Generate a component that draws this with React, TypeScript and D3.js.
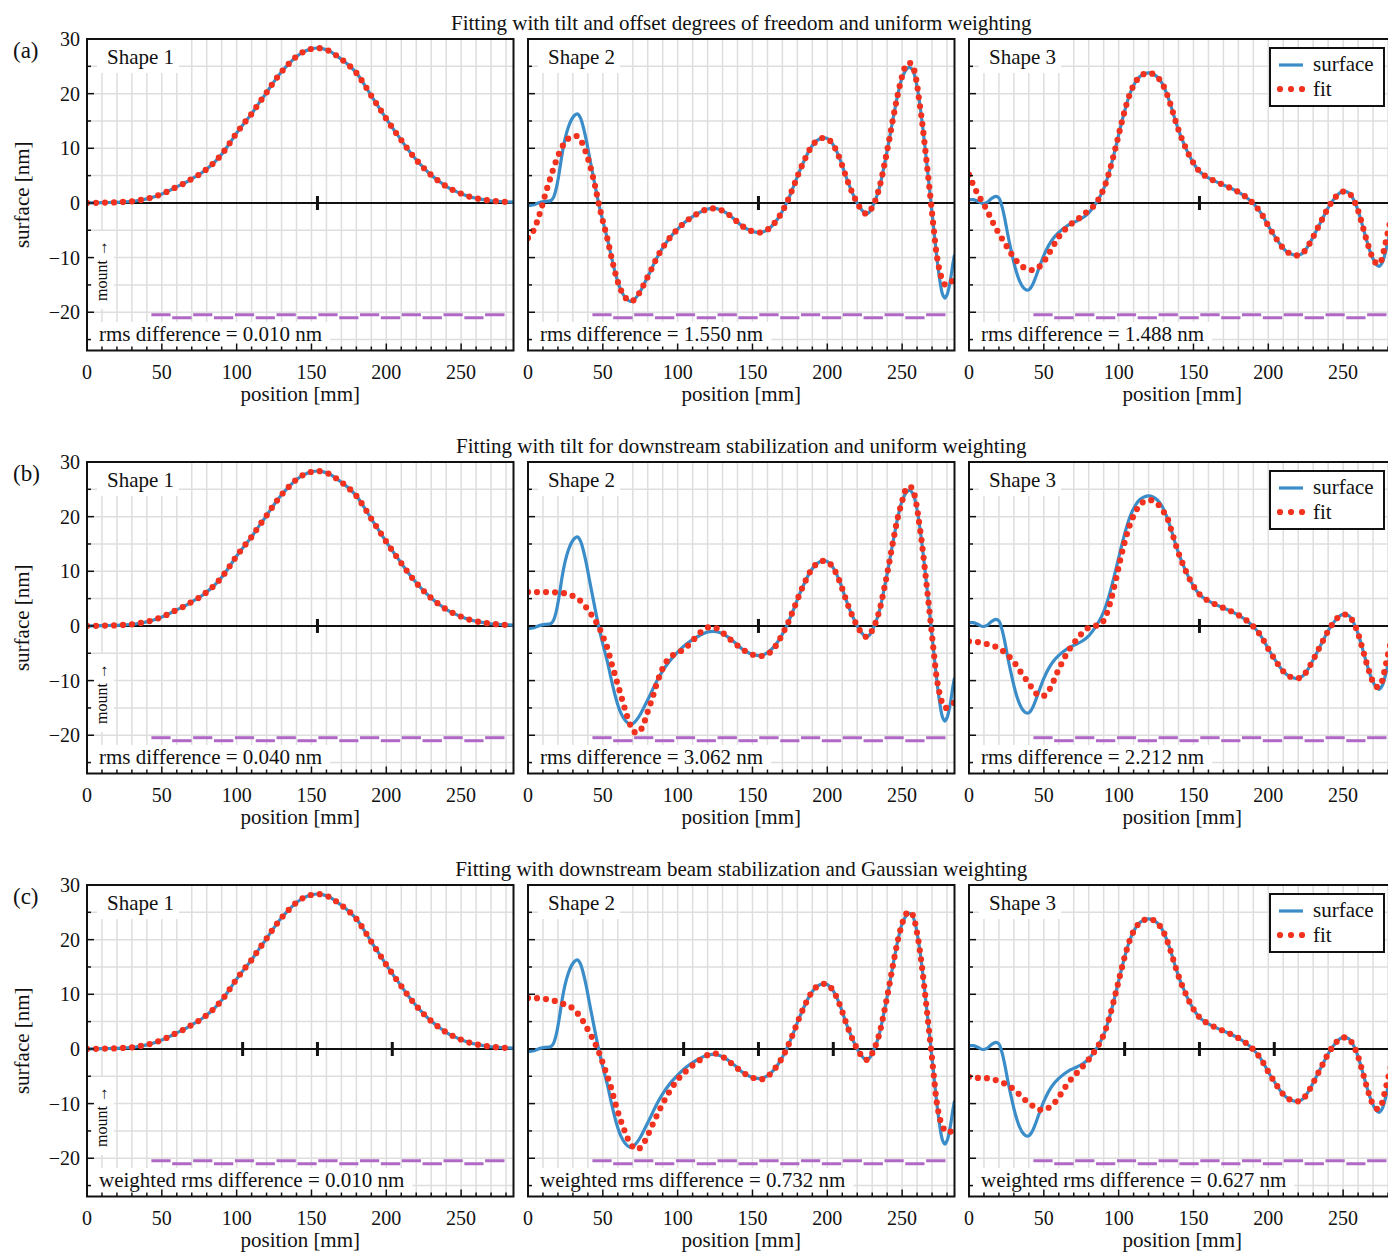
import React from "react";
import * as d3 from "d3";

type Pt = [number, number];

const W = 1388;
const H = 1252;

const rowTitles = [
  "Fitting with tilt and offset degrees of freedom and uniform weighting",
  "Fitting with tilt for downstream stabilization and uniform weighting",
  "Fitting with downstream beam stabilization and Gaussian weighting",
];
const rowLetters = ["(a)", "(b)", "(c)"];
const shapeNames = ["Shape 1", "Shape 2", "Shape 3"];
const rmsLabels = [
  ["rms difference = 0.010 nm", "rms difference = 1.550 nm", "rms difference = 1.488 nm"],
  ["rms difference = 0.040 nm", "rms difference = 3.062 nm", "rms difference = 2.212 nm"],
  ["weighted rms difference = 0.010 nm", "weighted rms difference = 0.732 nm", "weighted rms difference = 0.627 nm"],
];
const mountPositions = [[154], [154], [104, 154, 204]];
const xTicks = [0, 50, 100, 150, 200, 250];
const yTicks = [-20, -10, 0, 10, 20, 30];
const legendLabels = ["surface", "fit"];

// purple pad segments (edges in mm, level in nm)
const padEdges = [42.5, 56.4, 70.4, 84.3, 98.3, 112.2, 126.1, 140.1, 154.0, 168.0, 181.9, 195.8, 209.8, 223.7, 237.7, 251.6, 265.5, 279.5];
const padLevels = [-20.45, -21.0, -20.45, -21.0, -20.45, -21.0, -20.45, -21.0, -20.45, -21.0, -20.45, -21.0, -20.45, -21.0, -20.45, -21.0, -20.45];

const shape1Surface: Pt[] = [
  [0, 0], [5, 0.02], [10, 0.05], [15, 0.08], [20, 0.12], [25, 0.2], [30, 0.3], [35, 0.5], [40, 0.75], [45, 1.15],
  [50, 1.65], [55, 2.25], [60, 2.95], [65, 3.6], [70, 4.4], [75, 5.2], [80, 6.2], [85, 7.4], [90, 8.9], [95, 10.8],
  [100, 12.8], [105, 14.6], [110, 16.3], [115, 18.3], [120, 20.2], [125, 22.2], [130, 24.0], [135, 25.5], [140, 26.8],
  [145, 27.7], [150, 28.2], [154, 28.35], [158, 28.2], [162, 27.8], [166, 27.1], [170, 26.3], [175, 25.2], [180, 23.8],
  [185, 21.8], [190, 19.6], [195, 17.5], [200, 15.4], [205, 13.4], [210, 11.5], [215, 9.6], [220, 7.9], [225, 6.4],
  [230, 5.1], [235, 4.0], [240, 3.05], [245, 2.3], [250, 1.7], [255, 1.2], [260, 0.85], [265, 0.6], [270, 0.4],
  [275, 0.3], [280, 0.2], [285, 0.15],
];

const shape2Surface: Pt[] = [
  [0, -0.5], [4, -0.3], [8, 0.1], [12, 0.3], [15, 0.4], [17, 1.0], [19, 2.8], [21, 5.8], [23, 9.3], [25, 12], [27, 13.9],
  [29, 15.2], [31, 16.0], [33, 16.3], [35, 15.6], [37, 13.8], [39, 11.4], [41, 8.5], [43, 5.7], [45, 2.9], [47, 0.2],
  [50, -3.3], [53, -6.5], [56, -10.2], [59, -13.5], [62, -15.9], [65, -17.3], [68, -18.0], [70, -17.9], [72, -17.4],
  [75, -16.2], [78, -14.6], [82, -12.4], [86, -10.1], [90, -8.2], [95, -6.3], [100, -4.8], [105, -3.5], [110, -2.5],
  [115, -1.7], [120, -1.1], [124, -1.0], [128, -1.2], [133, -1.9], [138, -3.0], [143, -4.2], [148, -5.0], [153, -5.4],
  [157, -5.3], [161, -4.7], [165, -3.6], [169, -2.0], [173, 0.1], [177, 2.7], [181, 5.5], [185, 8.0], [189, 10.1],
  [193, 11.4], [197, 11.9], [200, 11.8], [203, 11.0], [206, 9.6], [209, 7.6], [212, 5.2], [215, 3.0], [218, 1.1],
  [221, -0.5], [224, -1.6], [226, -2.0], [228, -1.7], [230, -0.8], [232, 0.4], [235, 3.0], [238, 6.8], [241, 11.0],
  [244, 15.5], [247, 19.7], [250, 22.9], [253, 24.5], [255, 24.8], [257, 24.3], [259, 22.6], [261, 19.6], [263, 15.6],
  [265, 10.9], [267, 5.9], [269, 0.8], [271, -4.4], [273, -9.5], [275, -13.8], [277, -16.7], [278.5, -17.4],
  [280, -16.8], [282, -14.5], [284, -11.0], [285, -9.5],
];

const shape3Surface: Pt[] = [
  [0, 0.6], [3, 0.6], [6, 0.3], [9, -0.1], [12, 0.1], [15, 0.8], [18, 1.2], [20, 0.9], [22, -0.6], [24, -3.0],
  [26, -5.9], [28, -8.5], [30, -10.9], [32, -12.9], [34, -14.4], [36, -15.4], [38, -15.9], [40, -15.9], [42, -15.2],
  [44, -14.0], [46, -12.5], [48, -11.0], [50, -9.6], [53, -7.9], [56, -6.6], [60, -5.4], [64, -4.5], [68, -3.8],
  [72, -3.3], [76, -2.7], [80, -1.8], [84, -0.4], [87, 0.9], [90, 2.6], [93, 5.0], [96, 8.0], [99, 11.3], [102, 14.7],
  [105, 17.8], [108, 20.3], [111, 22.0], [114, 23.1], [117, 23.6], [120, 23.8], [123, 23.6], [126, 23.0], [129, 21.9],
  [132, 20.1], [135, 17.7], [138, 15.0], [141, 12.6], [144, 10.6], [147, 8.8], [150, 7.3], [153, 6.1], [156, 5.3],
  [160, 4.6], [165, 3.9], [170, 3.3], [175, 2.7], [180, 2.0], [185, 1.1], [190, -0.1], [195, -1.8], [200, -4.2],
  [205, -6.4], [210, -8.3], [214, -9.2], [218, -9.6], [221, -9.5], [224, -8.9], [227, -7.7], [230, -6.2], [233, -4.6],
  [236, -3.0], [239, -1.4], [242, 0.0], [245, 1.1], [248, 1.9], [251, 2.1], [254, 1.8], [257, 0.6], [260, -1.4],
  [263, -4.2], [266, -7.1], [269, -9.6], [272, -11.2], [274, -11.6], [276, -11.0], [278, -9.3], [280, -7.0],
  [282, -4.8], [285, -2.0],
];

// fit curves: stretches where the fit departs from the surface
const fitA2Left: Pt[] = [[0, -6.4], [3, -5.4], [6, -3.5], [9, -0.9], [12, 2.0], [15, 4.6], [18, 7.1], [21, 9.2], [24, 10.8], [27, 11.8], [30, 12.2], [33, 12.2], [36, 11.1], [39, 9.0], [41, 7.3], [43, 5.2]];
const fitA2Peak: Pt[] = [[250, 23.2], [252, 24.9], [254, 25.6], [256, 25.5], [258, 24.3], [260, 21.6]];
const fitA2End: Pt[] = [[273, -9.3], [275, -12.3], [277, -14.2], [279, -15.0], [281, -14.8], [283, -14.4], [285, -14.0]];

const fitB2Left: Pt[] = [
  [0, 6.2], [5, 6.2], [10, 6.2], [15, 6.2], [20, 6.1], [24, 6.0], [28, 5.7], [32, 5.2], [35, 4.6], [38, 3.7], [41, 2.6],
  [44, 1.4], [47, 0.0], [50, -1.9], [53, -4.0], [56, -7.0], [59, -9.8], [62, -12.6], [65, -15.4], [68, -17.9], [71, -19.4],
  [74, -19.5], [77, -18.1], [80, -15.7], [83, -13.3], [86, -10.6], [89, -8.4], [92, -6.7], [96, -5.5], [100, -4.9],
  [104, -4.3], [108, -3.3], [112, -2.1], [116, -1.0], [120, -0.3], [124, -0.2], [128, -0.8], [132, -1.7], [137, -2.9],
  [142, -4.0], [147, -4.9], [152, -5.4], [156, -5.5], [160, -5.2], [164, -4.2], [168, -2.6],
];
const fitB2Peak: Pt[] = [[250, 22.8], [252, 24.7], [254, 25.5], [256, 25.4], [258, 24.2], [260, 21.5]];
const fitB2End: Pt[] = [[273, -9.3], [275, -12.3], [277, -14.2], [279, -15.0], [281, -14.8], [283, -14.4], [285, -14.0]];

const fitC2Left: Pt[] = [
  [0, 9.3], [5, 9.3], [10, 9.2], [15, 9.0], [19, 8.7], [23, 8.3], [27, 7.9], [31, 7.2], [34, 6.2], [37, 5.0], [40, 3.5],
  [43, 2.0], [46, 0.3], [49, -1.8], [52, -4.2], [55, -6.6], [58, -9.6], [61, -12.3], [64, -14.6], [67, -16.6], [70, -17.9],
  [73, -18.4], [76, -17.8], [79, -16.4], [82, -14.6], [85, -12.8], [88, -11.1], [91, -9.5], [95, -7.6], [100, -5.6],
  [105, -4.2], [110, -3.0], [115, -2.0], [120, -1.1], [124, -0.8], [128, -1.1], [133, -2.0], [138, -3.1], [143, -4.2],
  [148, -5.0], [153, -5.5], [157, -5.5], [161, -4.8],
];
const fitC2Peak: Pt[] = [[250, 22.9], [252, 24.4], [254, 25.1], [256, 25.0], [258, 23.8], [260, 21.2]];
const fitC2End: Pt[] = [[273, -9.5], [275, -12.5], [277, -14.2], [279, -15.0], [281, -15.3], [283, -15.0], [285, -14.6]];

const fitA3Left: Pt[] = [
  [0, 5.2], [4, 2.6], [8, 0.6], [12, -1.3], [16, -3.6], [20, -5.6], [24, -7.4], [28, -9.2], [32, -10.7], [36, -11.7],
  [40, -12.2], [44, -12.2], [48, -11.4], [52, -9.9], [56, -8.0], [60, -6.2], [64, -4.9], [68, -3.9], [72, -3.1],
  [76, -2.3], [80, -1.3],
];
const fitA3End: Pt[] = [[270, -10.3], [273, -11.2], [275, -10.8], [277, -9.0], [279, -6.5], [281, -4.0], [283, -1.8], [285, 0.2]];

const fitB3Left: Pt[] = [
  [0, -2.8], [5, -2.9], [10, -3.2], [15, -3.5], [20, -4.1], [25, -5.1], [30, -6.6], [35, -8.6], [40, -10.5], [44, -12.1],
  [47, -12.8], [50, -12.8], [53, -12.0], [56, -10.4], [59, -8.5], [62, -6.8], [65, -5.2], [68, -3.9], [71, -2.8],
  [74, -1.8], [77, -0.9], [80, -0.3], [83, 0.0], [86, 0.1], [89, 0.6], [92, 2.2], [95, 4.9], [98, 8.3], [101, 12.0],
  [104, 15.3], [107, 18.1], [110, 20.2], [113, 21.7], [116, 22.6], [119, 23.0], [122, 23.0], [125, 22.6], [128, 21.7],
  [130, 20.9],
];
const fitB3End: Pt[] = [[270, -10.3], [273, -11.2], [275, -10.8], [277, -9.0], [279, -6.5], [281, -4.0], [283, -1.8], [285, 0.2]];

const fitC3Left: Pt[] = [
  [0, -5.1], [5, -5.3], [10, -5.3], [15, -5.5], [20, -5.9], [25, -6.5], [30, -7.4], [35, -8.7], [40, -9.9], [45, -10.8],
  [49, -11.2], [53, -10.8], [57, -9.9], [61, -8.4], [65, -6.7], [69, -5.3], [73, -4.1], [77, -2.9], [81, -1.6],
];
const fitC3End: Pt[] = [[270, -10.1], [273, -11.0], [275, -10.6], [277, -8.8], [279, -6.6], [281, -4.3], [283, -2.0], [285, 0.0]];

function withOverrides(base: Pt[], ...parts: Pt[][]): Pt[] {
  let pts = base.slice();
  for (const p of parts) {
    const lo = p[0][0];
    const hi = p[p.length - 1][0];
    pts = pts.filter(([x]) => x < lo || x > hi).concat(p);
  }
  return pts.sort((a, b) => a[0] - b[0]);
}

const surfaces = [shape1Surface, shape2Surface, shape3Surface];
const fits: Pt[][][] = [
  [shape1Surface, withOverrides(shape2Surface, fitA2Left, fitA2Peak, fitA2End), withOverrides(shape3Surface, fitA3Left, fitA3End)],
  [shape1Surface, withOverrides(shape2Surface, fitB2Left, fitB2Peak, fitB2End), withOverrides(shape3Surface, fitB3Left, fitB3End)],
  [shape1Surface, withOverrides(shape2Surface, fitC2Left, fitC2Peak, fitC2End), withOverrides(shape3Surface, fitC3Left, fitC3End)],
];

const colLeft = [87, 528, 969];
const rowTop = [39, 462, 885];
const PW = 426.5;
const PH = 311.5;

const FONT = "'Liberation Serif', 'Times New Roman', serif";
const FS = 21;
const BLUE = "#3a8dc8";
const RED = "#f2311f";
const PURPLE = "#b068c6";
const GRID = "#dedede";

let ctx: CanvasRenderingContext2D | null = null;
function textWidth(s: string, size: number) {
  if (!ctx) ctx = document.createElement("canvas").getContext("2d");
  if (!ctx) return s.length * size * 0.45;
  ctx.font = `${size}px 'Liberation Serif'`;
  return ctx.measureText(s).width;
}

const Panel = ({ row, col }: { row: number; col: number }) => {
  const left = colLeft[col];
  const top = rowTop[row];
  const x = d3.scaleLinear().domain([0, 285]).range([left, left + PW]);
  const y = d3.scaleLinear().domain([-27, 30]).range([top + PH, top]);
  const line = d3
    .line<Pt>()
    .x((d) => x(d[0]))
    .y((d) => y(d[1]))
    .curve(d3.curveCatmullRom.alpha(0.5));
  const clipId = `clip-${row}-${col}`;
  const rms = rmsLabels[row][col];
  const rmsW = textWidth(rms, FS);
  const gridX = d3.range(10, 290, 10);
  const gridY = d3.range(-25, 30, 5);
  const minorX = d3.range(10, 290, 10).filter((v) => v % 50 !== 0);
  const minorY = d3.range(-25, 30, 10);

  return (
    <g>
      <defs>
        <clipPath id={clipId}>
          <rect x={left} y={top} width={PW} height={PH} />
        </clipPath>
      </defs>
      <rect x={left} y={top} width={PW} height={PH} fill="#fff" />
      <g stroke={GRID} strokeWidth={1.5}>
        {gridX.map((v) => (
          <line key={"gx" + v} x1={x(v)} x2={x(v)} y1={top} y2={top + PH} />
        ))}
        {gridY.map((v) => (
          <line key={"gy" + v} x1={left} x2={left + PW} y1={y(v)} y2={y(v)} />
        ))}
      </g>
      {/* label backgrounds */}
      <rect x={left + 10} y={top + 1} width={82} height={33} fill="#fff" />
      <rect x={left + 4} y={top + 283} width={rmsW + 16} height={27} fill="#fff" />
      {col === 0 && <rect x={left + 5} y={top + 192} width={22} height={78} fill="#fff" />}
      <text x={left + 20} y={top + 25} fontFamily={FONT} fontSize={FS} fill="#111">
        {shapeNames[col]}
      </text>
      <text x={left + 12} y={top + 302} fontFamily={FONT} fontSize={FS} fill="#111">
        {rms}
      </text>
      {col === 0 && (
        <text
          transform={`translate(${left + 20},${top + 262}) rotate(-90)`}
          fontFamily={FONT}
          fontSize={16}
          fill="#111"
        >
          mount →
        </text>
      )}
      <g clipPath={`url(#${clipId})`}>
        <line x1={left} x2={left + PW} y1={y(0)} y2={y(0)} stroke="#111" strokeWidth={2} />
        {mountPositions[row].map((m) => (
          <line key={"m" + m} x1={x(m)} x2={x(m)} y1={y(0) - 7} y2={y(0) + 7} stroke="#111" strokeWidth={3} />
        ))}
        {padLevels.map((lv, i) => (
          <line
            key={"p" + i}
            x1={x(padEdges[i]) + 0.8}
            x2={x(padEdges[i + 1]) - 0.8}
            y1={y(lv)}
            y2={y(lv)}
            stroke={PURPLE}
            strokeWidth={3}
          />
        ))}
        <path d={line(surfaces[col]) || ""} fill="none" stroke={BLUE} strokeWidth={3.2} />
        <path
          d={line(fits[row][col]) || ""}
          fill="none"
          stroke={RED}
          strokeWidth={6.2}
          strokeLinecap="round"
          strokeDasharray="0 9"
        />
      </g>
      {col === 2 && (
        <g>
          <rect x={left + 301} y={top + 9} width={114} height={58} fill="#fff" stroke="#111" strokeWidth={2} />
          <line x1={left + 310} x2={left + 334} y1={top + 26} y2={top + 26} stroke={BLUE} strokeWidth={3.2} />
          <line
            x1={left + 311}
            x2={left + 334}
            y1={top + 50}
            y2={top + 50}
            stroke={RED}
            strokeWidth={6.2}
            strokeLinecap="round"
            strokeDasharray="0 11"
          />
          {legendLabels.map((l, i) => (
            <text key={l} x={left + 344} y={top + 32 + i * 25} fontFamily={FONT} fontSize={FS} fill="#111">
              {l}
            </text>
          ))}
        </g>
      )}
      {/* ticks */}
      <g stroke="#111" strokeWidth={1.5}>
        {yTicks.map((v) => (
          <line key={"yt" + v} x1={left} x2={left + 7} y1={y(v)} y2={y(v)} />
        ))}
        {minorY.map((v) => (
          <line key={"ym" + v} x1={left} x2={left + 4} y1={y(v)} y2={y(v)} />
        ))}
        {xTicks.map((v) => (
          <line key={"xt" + v} x1={x(v)} x2={x(v)} y1={top + PH} y2={top + PH - 7} />
        ))}
        {minorX.map((v) => (
          <line key={"xm" + v} x1={x(v)} x2={x(v)} y1={top + PH} y2={top + PH - 4} />
        ))}
      </g>
      <rect x={left} y={top} width={PW} height={PH} fill="none" stroke="#111" strokeWidth={2} />
      {xTicks.map((v) => (
        <text
          key={"xl" + v}
          x={x(v)}
          y={top + PH + 28}
          textAnchor="middle"
          fontFamily={FONT}
          fontSize={20}
          fill="#111"
        >
          {v}
        </text>
      ))}
      <text
        x={left + PW / 2}
        y={top + PH + 50}
        textAnchor="middle"
        fontFamily={FONT}
        fontSize={FS}
        fill="#111"
      >
        position [mm]
      </text>
      {col === 0 &&
        yTicks.map((v) => (
          <text
            key={"yl" + v}
            x={left - 7}
            y={y(v) + 7}
            textAnchor="end"
            fontFamily={FONT}
            fontSize={20}
            fill="#111"
          >
            {v < 0 ? "\u2212" + Math.abs(v) : v}
          </text>
        ))}
    </g>
  );
};

const App = () => {
  return (
    <svg
      width={W}
      height={H}
      style={{ position: "absolute", left: 0, top: 0, background: "#fff" }}
    >
      <rect width={W} height={H} fill="#fff" />
      {rowTop.map((top, r) => (
        <g key={"row" + r}>
          <text
            x={colLeft[1] + PW / 2}
            y={top - 9}
            textAnchor="middle"
            fontFamily={FONT}
            fontSize={FS}
            fill="#111"
          >
            {rowTitles[r]}
          </text>
          <text x={13} y={top + 19} fontFamily={FONT} fontSize={23} fill="#111">
            {rowLetters[r]}
          </text>
          <text
            transform={`translate(29,${top + PH / 2}) rotate(-90)`}
            textAnchor="middle"
            fontFamily={FONT}
            fontSize={FS}
            fill="#111"
          >
            surface [nm]
          </text>
          {colLeft.map((_, c) => (
            <Panel key={"p" + r + c} row={r} col={c} />
          ))}
        </g>
      ))}
    </svg>
  );
};

export default App;
